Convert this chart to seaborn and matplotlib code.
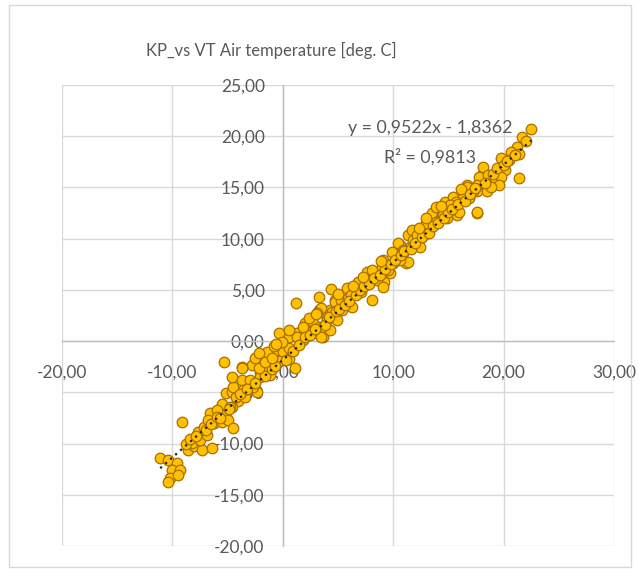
import numpy as np
import pandas as pd
import matplotlib
matplotlib.use("Agg")
import matplotlib.pyplot as plt
import seaborn as sns
from matplotlib.patches import Rectangle
from matplotlib.ticker import FuncFormatter

# ---- data ----
kp_x = [
    -11.1, -10.4, -9.6, -10.0, -9.3, -10.2, -9.5, -10.4,
    -9.1, -8.6, -8.0, -7.3, -6.4, -8.2, -7.5, -6.9, -7.7, -7.1, -6.2, -6.6, -5.2, -5.5, -5.0, -4.5,
    -5.1, -4.6, -4.1, -3.4, -2.3, -2.8, -3.7, -2.1, -2.8, -3.7, -1.8, -5.5, -6.0, -6.8, -4.6,
    -4.8, -4.5, -3.6, -2.7, -3.0, -2.1, -1.2, -1.4, -1.9, -1.4, -0.5, 0.0, 0.6, -0.3, 0.6,
    -0.3, 0.6, -0.1, 1.3, 1.1, -5.3, -3.7, -4.6, 1.2, 2.0, 2.2, 2.7, 3.1, 3.6, 3.3, 4.0, 3.3,
    4.3, 3.3, 4.7,
    1.8, 1.8, 2.7, 3.6, 3.5, 3.5, 4.4, 4.7, 4.5, 5.3, 5.8, 5.9, 5.4, 6.3, 6.2, 6.8, 7.1, 8.1,
    7.6, 8.1, 8.6, 9.0, 9.2, 9.7, 10.0, 10.3, 10.9, 11.2, 10.6, 11.5, 11.3, 11.9, 2.4, 4.0,
    4.9, 4.3, 3.1, 1.3, 0.6,
    11.7, 8.1, 8.5, 9.1, 9.5, 9.1, 9.9, 10.4, 10.9, 11.3, 10.6, 11.8, 12.4, 12.2, 13.0, 12.9,
    13.5, 13.9, 14.4, 13.9, 14.9, 14.7, 15.4, 15.6, 15.8, 16.2, 16.7, 16.9, 17.6, 17.6, 18.1,
    18.5, 18.0, 18.9,
    22.5, 21.7, 21.2, 20.7, 21.4, 20.5, 19.8, 21.4, 20.1, 18.1, 17.8, 18.6, 19.2, 19.8, 19.6,
    18.9, 17.6, 17.2, 16.7, 17.6, 16.9, 16.3, 15.7, 15.1, 16.0, 14.5, 13.9,
    -8.8, -8.4, -7.9, -7.0, -6.5, -6.0, -5.7, -4.9, -4.2, -3.9, -3.2, -2.5, -1.6, -1.0, -0.7,
    0.3, 0.9, 1.5, 2.0, 2.5, 2.9, 3.8, 4.2, 4.8, 5.1, 5.6, 6.0, 6.6, 7.0, 7.4, 7.8, 8.3, 8.8,
    9.3, 9.8, 10.2, 10.7, 11.0, 11.6, 12.0, 12.6, 13.2, 13.6, 14.1, 14.6, 15.0, 15.3, 15.9,
    16.5, 17.0, 17.4, 18.3, 19.0, 19.4, 20.0, 20.3, 21.0, 22.0, 6.4, 7.3, 8.9, 12.3, 14.3,
    13.0, 16.1, 5.0, 3.0, -2.2, -1.6, -0.8, -2.5, -2.2, -1.0, -0.6,
]
vt_y = [
    -11.4, -11.6, -11.9, -12.6, -12.6, -13.4, -13.1, -13.8,
    -7.9, -10.6, -10.2, -10.6, -10.4, -9.9, -9.7, -9.2, -8.9, -8.4, -8.0, -7.0, -7.2, -7.9, -7.7, -8.5,
    -5.1, -5.0, -5.8, -5.5, -5.0, -4.1, -3.8, -3.1, -2.3, -2.5, -2.2, -6.1, -6.7, -7.7, -6.4,
    -6.4, -4.5, -4.8, -4.5, -3.8, -3.5, -3.3, -2.6, -1.4, -1.1, -0.9, -1.1, -0.7, -1.9, -1.7,
    0.8, 0.4, -0.1, 0.8, -2.6, -2.0, -2.6, -3.5, 3.7, 1.8, 0.9, 1.8, 0.8, 0.4, 1.4, 2.2, 3.0,
    3.0, 4.3, 4.0,
    1.4, 0.1, 1.1, 1.4, 0.4, 3.2, 5.1, 3.8, 2.8, 4.0, 5.2, 4.2, 3.0, 3.3, 4.5, 5.8, 4.8, 4.0,
    6.7, 6.0, 6.4, 7.2, 5.8, 6.6, 7.6, 8.2, 8.6, 7.6, 9.4, 9.2, 10.4, 9.7, 2.3, 2.1,
    2.1, 1.1, 2.7, 0.4, 1.1,
    10.8, 6.9, 6.0, 7.9, 6.9, 5.3, 8.7, 9.6, 8.9, 7.7, 7.9, 9.9, 9.2, 10.4, 11.5, 10.5,
    12.5, 13.1, 12.3, 11.5, 12.0, 13.6, 14.1, 13.0, 12.3, 14.5, 15.2, 14.1, 12.5, 14.7, 15.5,
    14.7, 16.2, 16.0,
    20.7, 19.9, 18.9, 18.5, 18.3, 17.7, 17.9, 15.9, 16.7, 17.0, 16.0, 16.2, 15.9, 16.0, 15.2,
    15.0, 15.2, 14.7, 15.0, 12.6, 14.0, 14.0, 13.6, 13.3, 12.6, 12.3, 11.6,
    -10.0, -9.6, -9.3, -8.7, -8.1, -7.4, -7.5, -6.6, -5.5, -5.2, -4.7, -4.1, -3.4, -2.7, -2.4,
    -1.8, -1.0, -0.4, 0.4, 0.6, 1.2, 1.6, 2.4, 2.9, 3.1, 3.5, 3.9, 4.5, 5.0, 5.4, 5.6, 6.2, 6.5,
    7.0, 7.5, 7.9, 8.4, 8.8, 9.0, 9.6, 10.2, 10.6, 11.2, 11.5, 12.0, 12.6, 12.9, 13.4,
    13.7, 14.4, 14.9, 15.4, 16.3, 16.9, 17.2, 17.6, 18.2, 19.5, 5.4, 6.3, 7.8, 11.0, 13.2,
    12.0, 14.8, 4.6, 2.6, -2.6, -2.0, -0.5, -1.6, -1.2, -1.6, -0.3,
]
trend_slope = 0.9522
trend_intercept = -1.8362
x_ticks = [-20, -10, 0, 10, 20, 30]
y_ticks = [-20, -15, -10, -5, 0, 5, 10, 15, 20, 25]
title = "KP_vs VT Air temperature [deg. C]"
eq_text = "y = 0,9522x - 1,8362"
r2_text = "R² = 0,9813"

df = pd.DataFrame({"KP": kp_x, "VT": vt_y})

sns.set_style("white")
FONT = ["Lato", "DejaVu Sans"]
plt.rcParams["font.family"] = FONT
grey = "#595959"

fig = plt.figure(figsize=(6.39, 5.74), dpi=100)
W, H = 639, 574
ax = fig.add_axes([62 / W, 1 - 546 / H, (614 - 62) / W, (546 - 85) / H])

# outer chart border
fig.patches.append(Rectangle((9 / W, 1 - 567 / H), (631 - 9) / W, (567 - 5) / H,
                             transform=fig.transFigure, fill=False,
                             edgecolor="#d9d9d9", linewidth=1.0))

ax.set_xlim(-20, 30)
ax.set_ylim(-20, 25)
ax.set_xticks(x_ticks)
ax.set_yticks(y_ticks)
fmt = FuncFormatter(lambda v, p: f"{v:.2f}".replace(".", ","))
ax.xaxis.set_major_formatter(fmt)
ax.yaxis.set_major_formatter(fmt)
ax.grid(True, color="#d9d9d9", linewidth=1.0)
ax.set_axisbelow(True)

for s in ["top", "right"]:
    ax.spines[s].set_visible(False)
ax.spines["left"].set_position(("data", 0))
ax.spines["bottom"].set_position(("data", 0))
for s in ["left", "bottom"]:
    ax.spines[s].set_color("#bfbfbf")
    ax.spines[s].set_linewidth(1.0)
ax.tick_params(axis="x", length=0, pad=17, labelsize=12.5, labelcolor=grey)
ax.tick_params(axis="y", length=0, pad=13, labelsize=12.5, labelcolor=grey)

sns.scatterplot(data=df, x="KP", y="VT", ax=ax, s=58, color="#FFC000",
                edgecolor="#A87000", linewidth=0.9, zorder=3, legend=False)

xs = np.array([min(kp_x), max(kp_x)])
ax.plot(xs, trend_slope * xs + trend_intercept, linestyle=(0, (1, 2)),
        color="#202020", linewidth=1.6, zorder=4)

ax.set_xlabel("")
ax.set_ylabel("")

fig.text(271 / W, 1 - 50 / H, title, ha="center", va="center", fontsize=12, color=grey)
fig.text(430 / W, 1 - 128 / H, eq_text, ha="center", va="center", fontsize=12.8, color=grey)
fig.text(430 / W, 1 - 157 / H, r2_text, ha="center", va="center", fontsize=12.8, color=grey)

fig.savefig("out.png", dpi=100)
